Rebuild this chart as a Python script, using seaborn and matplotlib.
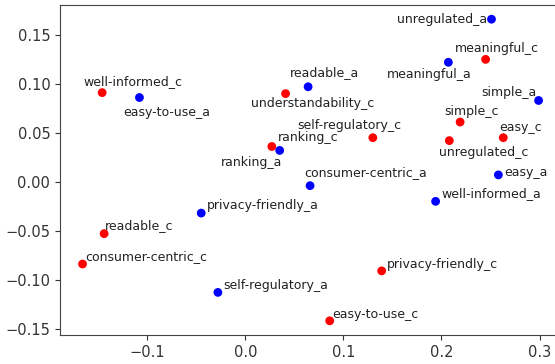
import matplotlib
matplotlib.use("Agg")
import matplotlib.pyplot as plt
import seaborn as sns
import pandas as pd

# ---- data ----
labels = [
    "well-informed_c", "understandability_c", "ranking_c", "self-regulatory_c",
    "meaningful_c", "simple_c", "unregulated_c", "easy_c", "readable_c",
    "consumer-centric_c", "privacy-friendly_c", "easy-to-use_c",
    "easy-to-use_a", "ranking_a", "readable_a", "unregulated_a", "meaningful_a",
    "simple_a", "easy_a", "consumer-centric_a", "well-informed_a",
    "privacy-friendly_a", "self-regulatory_a",
]
x_vals = [
    -0.146, 0.041, 0.027, 0.130, 0.245, 0.219, 0.208, 0.263, -0.144,
    -0.166, 0.139, 0.086,
    -0.108, 0.035, 0.064, 0.251, 0.207, 0.299, 0.258, 0.066, 0.194,
    -0.045, -0.028,
]
y_vals = [
    0.091, 0.090, 0.036, 0.045, 0.125, 0.061, 0.042, 0.045, -0.053,
    -0.084, -0.091, -0.142,
    0.086, 0.032, 0.097, 0.166, 0.122, 0.083, 0.007, -0.004, -0.020,
    -0.032, -0.113,
]
groups = ["c"] * 12 + ["a"] * 11

df = pd.DataFrame({"label": labels, "x": x_vals, "y": y_vals, "group": groups})

# label offsets in pixels (layout only)
offsets = {
    "well-informed_c": (-19, 11), "easy-to-use_a": (-16, -15),
    "ranking_a": (-59, -12), "ranking_c": (6, 9),
    "understandability_c": (-35, -10), "readable_a": (-18, 14),
    "self-regulatory_c": (-76, 12), "unregulated_a": (-4, 0),
    "meaningful_c": (-31, 11), "meaningful_a": (-61, -12),
    "simple_a": (-57, 8), "simple_c": (-16, 11), "easy_c": (-4, 10),
    "unregulated_c": (-10, -12), "consumer-centric_a": (-6, 13),
    "easy_a": (6, 2), "well-informed_a": (6, 8),
    "privacy-friendly_a": (6, 8), "readable_c": (1, 8),
    "consumer-centric_c": (3, 7), "self-regulatory_a": (5, 7),
    "privacy-friendly_c": (5, 6), "easy-to-use_c": (3, 6),
}
right_aligned = {"unregulated_a"}

fig = plt.figure(figsize=(5.55, 3.64), dpi=100)
ax = fig.add_axes([60 / 555, 29 / 364, (568 - 60) / 555, 330 / 364])

sns.scatterplot(data=df, x="x", y="y", hue="group",
                palette={"a": "blue", "c": "red"}, s=40, linewidth=0,
                legend=False, ax=ax)

for lab, xv, yv in zip(df["label"], df["x"], df["y"]):
    dx, dy = offsets[lab]
    ax.annotate(lab, (xv, yv), xytext=(dx, dy), textcoords="offset pixels",
                ha="right" if lab in right_aligned else "left", va="center",
                fontsize=9, color="#222222")

ax.set_xlim(-0.189, 0.329)
ax.set_ylim(-0.1565, 0.1805)
ax.set_xticks([-0.1, 0.0, 0.1, 0.2, 0.3])
ax.set_yticks([-0.15, -0.10, -0.05, 0.00, 0.05, 0.10, 0.15])
ax.set_xticklabels(["−0.1", "0.0", "0.1", "0.2", "0.3"])
ax.set_yticklabels(["−0.15", "−0.10", "−0.05", "0.00", "0.05", "0.10", "0.15"])
ax.tick_params(labelsize=10.5, colors="#333333")
ax.set_xlabel("")
ax.set_ylabel("")
for sp in ax.spines.values():
    sp.set_color("#444444")

fig.savefig("out.png", dpi=100)
